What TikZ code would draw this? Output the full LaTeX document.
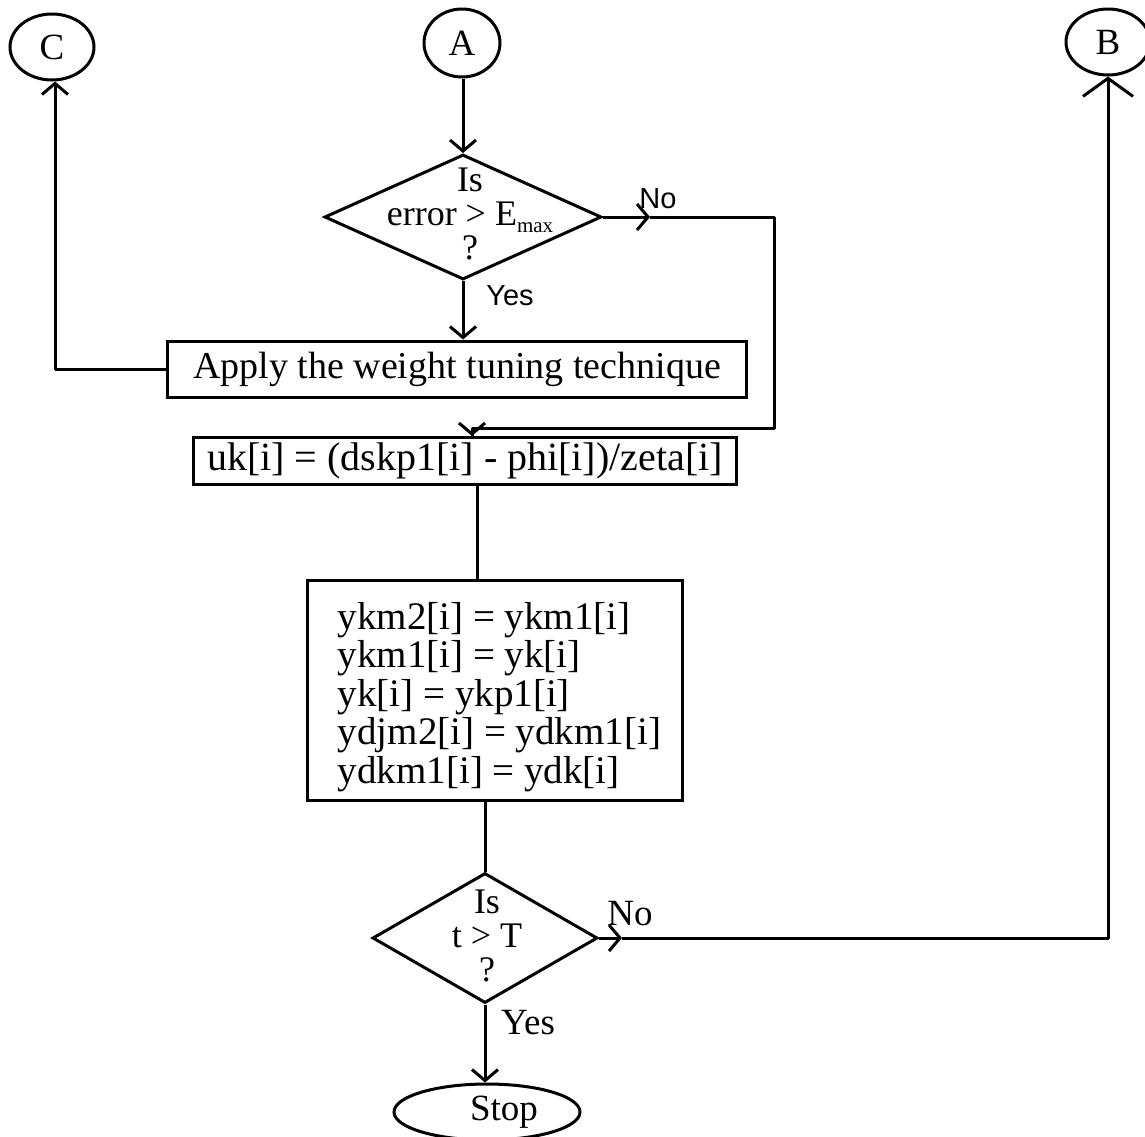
\documentclass[tikz,border=0pt]{standalone}
\usepackage{fontspec}
\setmainfont{Liberation Serif}
\newfontfamily\handfont{Liberation Sans}
\usetikzlibrary{shapes.geometric,arrows.meta}
\begin{document}
\begin{tikzpicture}[x=1pt,y=-1pt, line width=3pt,
  every node/.style={font=\fontsize{37}{39}\selectfont},
  box/.style={draw, rectangle, inner sep=0pt},
  dia/.style={draw, diamond, inner sep=0pt},
  conn/.style={draw, ellipse, inner sep=0pt},
  arr/.style={-{Straight Barb[length=11pt,width=26pt]}},
  bigarr/.style={-{Straight Barb[length=18pt,width=50pt]}},
  txt/.style={align=center, font=\fontsize{36}{34}\selectfont},
  hand/.style={font=\handfont\fontsize{29}{29}\selectfont}]
\useasboundingbox (0,0) rectangle (1145,1136);

% connectors (circles)
\node[conn, minimum width=84pt, minimum height=66pt] (C) at (52,47) {C};
\node[conn, minimum width=76pt, minimum height=68pt] (A) at (462,43) {A};
\node[conn, minimum width=84pt, minimum height=66pt] (B) at (1108,42) {B};

% decision 1
\node[dia, minimum width=277pt, minimum height=125pt] (d1) at (463,217) {};
\node[txt] (d1text) at (470,214) {Is\\error > E\raisebox{-7pt}{\fontsize{21}{21}\selectfont max}\\?};

% process boxes
\node[box, minimum width=579pt, minimum height=56pt, font=\fontsize{38}{40}\selectfont] (apply) at (457,369) {Apply the weight tuning technique};
\node[box, minimum width=543pt, minimum height=47pt, font=\fontsize{40}{40}\selectfont] (uk) at (465,461) {uk[i] = (dskp1[i] - phi[i])/zeta[i]};
\node[box, minimum width=375pt, minimum height=220pt] (ykm) at (495,690) {};
\node[align=left, anchor=west, font=\fontsize{39}{38.5}\selectfont] (ykmtext) at (333,697)
  {ykm2[i] = ykm1[i]\\ykm1[i] = yk[i]\\yk[i] = ykp1[i]\\ydjm2[i] = ydkm1[i]\\ydkm1[i] = ydk[i]};

% decision 2
\node[dia, minimum width=225pt, minimum height=130pt] (d2) at (485,938) {};
\node[txt] (d2text) at (487,936) {Is\\t > T\\?};

% stop
\node[conn, minimum width=186pt, minimum height=56pt] (stop) at (487,1112) {};
\node (stoptext) at (504,1112) {Stop};

% labels
\node[hand] (no1) at (658,199) {No};
\node[hand] (yes1) at (510,296) {Yes};
\node (no2) at (630,914) {No};
\node (yes2) at (528,1023) {Yes};

% connectors
\coordinate (nA) at (650,217);
\coordinate (rA) at (774,217);
\coordinate (rB) at (774,428);
\coordinate (rC) at (472,428);
\coordinate (cL) at (55,369);
\coordinate (nB) at (622,938);
\coordinate (bR) at (1108,938);

\draw[arr] (A.south -| d1.north) -- (d1.north);
\draw[arr] (d1.south) -- (apply.north -| d1.south);
\draw[arr] (d1.east) -- (nA);
\draw[line join=round] (nA) -- (rA) -- (rB) -- (rC) -- (rC |- uk.north);
\draw[arr] (rC) -- (rC |- uk.north);
\draw[arr, line join=round] (apply.west) -- (cL) -- (cL |- C.south);
\draw ([xshift=12pt]uk.south) -- ([xshift=12pt]uk.south |- ykm.north);
\draw (d2.north |- ykm.south) -- (d2.north);
\draw[arr] (d2.east) -- (nB);
\draw[bigarr, line join=round] (nB) -- (bR) -- (B.south);
\draw[arr] (d2.south) -- (stop.north -| d2.south);
\end{tikzpicture}
\end{document}
